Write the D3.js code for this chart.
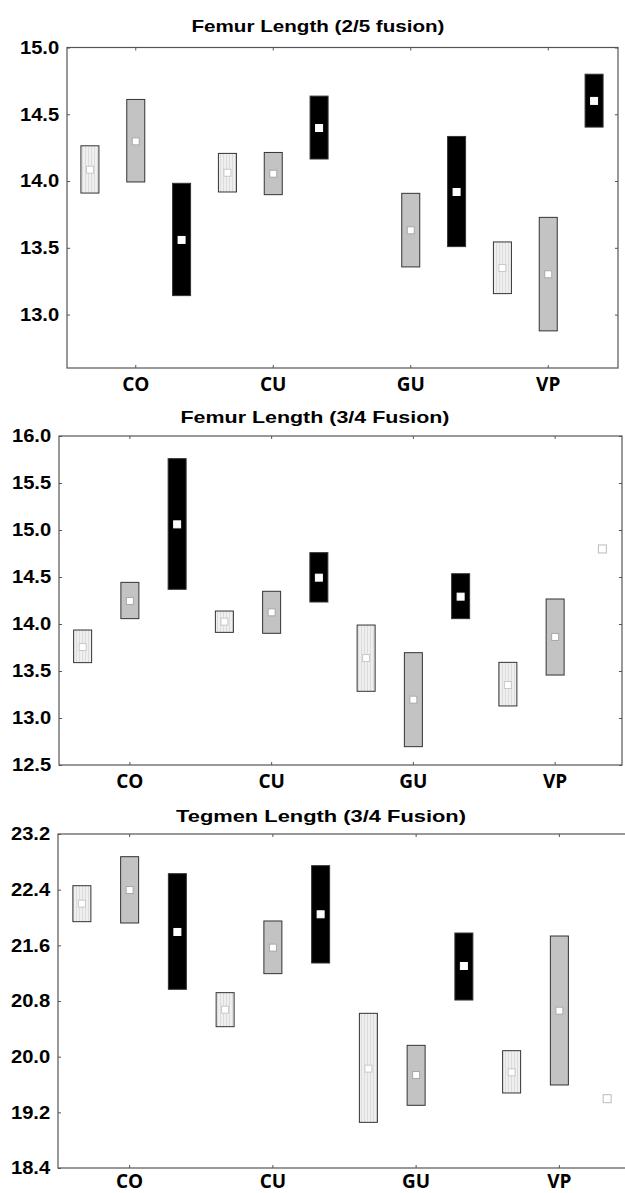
<!DOCTYPE html>
<html lang="en">
  <head>
    <meta charset="utf-8">
    <title>Length by population and fusion</title>
    <style>
      body { margin: 0; background: #fff; }
      .ylab { font-family: "Liberation Sans", Arial, sans-serif; font-weight: bold; font-size: 18px; fill: #000; }
      .xlab { font-family: "Open Sans", sans-serif; font-weight: bold; font-size: 19px; fill: #000; }
      .title { font-family: "Liberation Sans", Arial, sans-serif; font-weight: bold; font-size: 17px; fill: #000; }
    </style>
  </head>
  <body>

<script src="https://d3js.org/d3.v7.min.js"></script>

<script>
// populations and the three groups (light striped, grey, black)
var categories = ["CO", "CU", "GU", "VP"];
var groups = ["light", "grey", "black"];

// Femur Length (2/5 fusion): one row per population, [light, grey, black]
var femur25Mean = [[14.085, 14.297, 13.559], [14.062, 14.055, 14.397], [null, 13.631, 13.918], [13.349, 13.302, 14.60]];
var femur25Low  = [[13.91, 13.993, 13.142], [13.918, 13.898, 14.165], [null, 13.357, 13.509], [13.157, 12.878, 14.404]];
var femur25High = [[14.264, 14.611, 13.983], [14.207, 14.214, 14.636], [null, 13.908, 14.334], [13.544, 13.728, 14.80]];
var femur25Ticks = [13.0, 13.5, 14.0, 14.5, 15.0];

// Femur Length (3/4 Fusion)
var femur34Mean = [[13.755, 14.245, 15.060], [14.025, 14.124, 14.493], [13.638, 13.195, 14.291], [13.351, 13.862, 14.798]];
var femur34Low  = [[13.589, 14.057, 14.369], [13.911, 13.901, 14.234], [13.284, 12.695, 14.057], [13.128, 13.457, null]];
var femur34High = [[13.936, 14.443, 15.759], [14.138, 14.348, 14.759], [13.989, 13.695, 14.535], [13.592, 14.266, null]];
var femur34Ticks = [12.5, 13.0, 13.5, 14.0, 14.5, 15.0, 15.5, 16.0];

// Tegmen Length (3/4 Fusion)
var tegmenMean = [[22.199, 22.395, 21.792], [20.675, 21.567, 22.046], [19.828, 19.737, 21.303], [19.775, 20.661, 19.396]];
var tegmenLow  = [[21.94, 21.921, 20.968], [20.431, 21.193, 21.346], [19.056, 19.301, 20.814], [19.478, 19.593, null]];
var tegmenHigh = [[22.457, 22.874, 22.63], [20.92, 21.95, 22.745], [20.623, 20.163, 21.777], [20.086, 21.734, null]];
var tegmenTicks = [18.4, 19.2, 20.0, 20.8, 21.6, 22.4, 23.2];

var panels = [
  { title: "Femur Length (2/5 fusion)", mean: femur25Mean, low: femur25Low, high: femur25High,
    ticks: femur25Ticks, domain: [12.6, 15.0], labY: 23,
    left: 67, right: 618, bandRight: 617, top: 47.5, bottom: 368, titleX: 318, titleY: 32, titleW: 253 },
  { title: "Femur Length (3/4 Fusion)", mean: femur34Mean, low: femur34Low, high: femur34High,
    ticks: femur34Ticks, domain: [12.5, 16.0], labY: 23,
    left: 59, right: 622, bandRight: 626, top: 436, bottom: 765, titleX: 315, titleY: 423, titleW: 269 },
  { title: "Tegmen Length (3/4 Fusion)", mean: tegmenMean, low: tegmenLow, high: tegmenHigh,
    ticks: tegmenTicks, domain: [18.4, 23.2], labY: 20,
    left: 58, right: 640, bandRight: 631, top: 834, bottom: 1168, titleX: 321, titleY: 822, titleW: 290 }
];

var W = 625, H = 1193;
var boxW = 18;
var fills = { light: "url(#stripes)", grey: "#c3c3c3", black: "#000" };
var markStroke = { light: "#c8c8c8", grey: "#a8a8a8", black: "#fff" };

var svg = d3.select("body").append("svg")
  .attr("width", W)
  .attr("height", H);

// faint vertical stripes for the light boxes
var pat = svg.append("defs").append("pattern")
  .attr("id", "stripes")
  .attr("patternUnits", "userSpaceOnUse")
  .attr("width", 3).attr("height", 6);
pat.append("rect").attr("width", 3).attr("height", 6).attr("fill", "#efefef");
pat.append("rect").attr("x", 1).attr("width", 1).attr("height", 6).attr("fill", "#dcdcdc");

panels.forEach(function (p) {
  var g = svg.append("g");

  var x0 = d3.scaleBand().domain(categories).range([p.left, p.bandRight]);
  var x1 = d3.scaleBand().domain(groups).range([0, x0.bandwidth()]);
  var y = d3.scaleLinear().domain(p.domain).range([p.bottom, p.top]);

  // title
  g.append("text")
    .attr("class", "title")
    .attr("x", p.titleX - p.titleW / 2)
    .attr("y", p.titleY)
    .attr("textLength", p.titleW)
    .attr("lengthAdjust", "spacingAndGlyphs")
    .text(p.title);

  // plot frame
  g.append("rect")
    .attr("x", p.left).attr("y", p.top)
    .attr("width", p.right - p.left).attr("height", p.bottom - p.top)
    .attr("fill", "none")
    .attr("stroke", "#555")
    .attr("stroke-width", 1.2);

  // axes: short inward ticks on all four sides
  var yl = g.append("g").attr("transform", "translate(" + p.left + ",0)")
    .call(d3.axisLeft(y).tickValues(p.ticks).tickSize(-3).tickSizeOuter(0)
      .tickPadding(7).tickFormat(d3.format(".1f")));
  yl.select(".domain").remove();
  yl.selectAll("line").attr("stroke", "#555");
  yl.selectAll("text").attr("class", "ylab")
    .attr("font-family", null).attr("font-size", null)
    .attr("transform", "scale(1.12,1)");

  var yr = g.append("g").attr("transform", "translate(" + p.right + ",0)")
    .call(d3.axisRight(y).tickValues(p.ticks).tickSize(-3).tickSizeOuter(0).tickFormat(""));
  yr.select(".domain").remove();
  yr.selectAll("line").attr("stroke", "#555");

  var xb = g.append("g").attr("transform", "translate(0," + p.bottom + ")")
    .call(d3.axisBottom(x0).tickSize(-3).tickSizeOuter(0).tickPadding(7));
  xb.select(".domain").remove();
  xb.selectAll("line").attr("stroke", "#555");
  xb.selectAll("text").attr("class", "xlab")
    .attr("font-family", null).attr("font-size", null)
    .attr("dy", null).attr("y", p.labY);

  var xt = g.append("g").attr("transform", "translate(0," + p.top + ")")
    .call(d3.axisTop(x0).tickSize(-3).tickSizeOuter(0).tickFormat(""));
  xt.select(".domain").remove();
  xt.selectAll("line").attr("stroke", "#555");

  // flatten rows into one record per box
  var recs = [];
  categories.forEach(function (c, i) {
    groups.forEach(function (s, j) {
      if (p.mean[i][j] == null) return;
      recs.push({ cat: c, grp: s, mean: p.mean[i][j], low: p.low[i][j], high: p.high[i][j] });
    });
  });

  var cx = function (d) { return x0(d.cat) + x1(d.grp) + x1.bandwidth() / 2; };

  // boxes (low..high)
  g.selectAll(".box")
    .data(recs.filter(function (d) { return d.low != null; }))
    .enter()
    .append("rect")
      .attr("class", "box")
      .attr("x", function (d) { return cx(d) - boxW / 2; })
      .attr("y", function (d) { return y(d.high); })
      .attr("width", boxW)
      .attr("height", function (d) { return y(d.low) - y(d.high); })
      .attr("fill", function (d) { return fills[d.grp]; })
      .attr("stroke", "#333")
      .attr("stroke-width", 1);

  // mean markers
  g.selectAll(".mean")
    .data(recs)
    .enter()
    .append("rect")
      .attr("class", "mean")
      .attr("x", function (d) { return cx(d) - (d.low == null ? 4 : 3.5); })
      .attr("y", function (d) { return y(d.mean) - (d.low == null ? 4 : 3.5); })
      .attr("width", function (d) { return d.low == null ? 8 : 7; })
      .attr("height", function (d) { return d.low == null ? 8 : 7; })
      .attr("fill", "#fff")
      .attr("stroke", function (d) { return d.low == null ? "#bbb" : markStroke[d.grp]; })
      .attr("stroke-width", 1);
});
</script>

  </body>
</html>
